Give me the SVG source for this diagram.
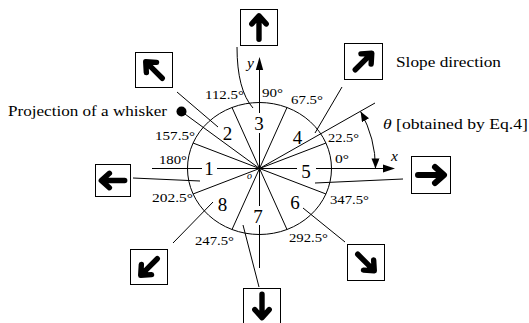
<svg xmlns="http://www.w3.org/2000/svg" xmlns:xlink="http://www.w3.org/1999/xlink" width="529" height="323" viewBox="0 0 529 323" font-family="'Liberation Serif', 'Times New Roman', serif">
<style>
text{font-family:'Liberation Serif', serif;fill:#000}
.deg{font-size:13.5px}
.num{font-size:19px;text-anchor:middle}
.lbl{font-size:15.5px}
.it{font-style:italic}
.ln{stroke:#000;stroke-width:1;fill:none}
.box{fill:#fff;stroke:#000;stroke-width:1}
.ag{stroke:#000;stroke-width:6;stroke-linecap:round;stroke-linejoin:round;fill:none}
</style>
<defs>
<g id="arr"><path class="ag" d="M-13,0 H12 M4,-8 L13,0 L4,8"/></g>
<marker id="ah" viewBox="0 0 10 8" refX="10" refY="4" markerWidth="10" markerHeight="8" markerUnits="userSpaceOnUse" orient="auto-start-reverse"><path d="M0,0 L10,4 L0,8 Z" fill="#000"/></marker>
</defs>
<rect width="529" height="323" fill="#fff"/>

<g id="dial">
<ellipse cx="259.5" cy="168.5" rx="72" ry="66" class="ln"/>
<path class="ln" d="M259.5,168.5 L326,143 M259.5,168.5 L287,107.5 M259.5,168.5 L232,107.5 M259.5,168.5 L193,143 M259.5,168.5 L193,194 M259.5,168.5 L232,229.5 M259.5,168.5 L287,229.5 M259.5,168.5 L326,194"/>
<path class="ln" d="M152,168.5 H202 M217,168.5 H259.5 H297 M316,168.5 H385"/>
<path d="M395,168.5 L383,164.5 L383,172.5 Z"/>
<path class="ln" d="M259.5,168.5 V133 M259.5,113 V69"/>
<path d="M259.5,57 L255.8,70 L263.2,70 Z"/>
<path class="ln" d="M259.5,168.5 V206 M259.5,225 V268"/>
<path class="ln" d="M259.5,168.5 L375,103"/>
<path class="ln" d="M375.5,168.5 A116,116 0 0 0 360.6,111.6" marker-start="url(#ah)" marker-end="url(#ah)"/>
<text class="num" x="209" y="174.5">1</text>
<text class="num" x="227.5" y="139.5">2</text>
<text class="num" x="259" y="129.5">3</text>
<text class="num" x="297.5" y="143.5">4</text>
<text class="num" x="306" y="177.5">5</text>
<text class="num" x="295" y="208.5">6</text>
<text class="num" x="258" y="222.5">7</text>
<text class="num" x="222.5" y="210.5">8</text>
<text x="249.5" y="179" style="font-size:10px;text-anchor:middle" class="it">o</text>
<text class="lbl it" x="247" y="68">y</text>
<text class="lbl it" x="391" y="161">x</text>
<text class="deg" x="262" y="97" textLength="21" lengthAdjust="spacingAndGlyphs">90°</text>
<text class="deg" x="205" y="99" textLength="39" lengthAdjust="spacingAndGlyphs">112.5°</text>
<text class="deg" x="291" y="104" textLength="32" lengthAdjust="spacingAndGlyphs">67.5°</text>
<text class="deg" x="328" y="142" textLength="31" lengthAdjust="spacingAndGlyphs">22.5°</text>
<text class="deg" x="335" y="163" textLength="14" lengthAdjust="spacingAndGlyphs">0°</text>
<text class="deg" x="155" y="140" textLength="40" lengthAdjust="spacingAndGlyphs">157.5°</text>
<text class="deg" x="159" y="164" textLength="28" lengthAdjust="spacingAndGlyphs">180°</text>
<text class="deg" x="152" y="202" textLength="41" lengthAdjust="spacingAndGlyphs">202.5°</text>
<text class="deg" x="195" y="245" textLength="39" lengthAdjust="spacingAndGlyphs">247.5°</text>
<text class="deg" x="289" y="242" textLength="39" lengthAdjust="spacingAndGlyphs">292.5°</text>
<text class="deg" x="330" y="204" textLength="39" lengthAdjust="spacingAndGlyphs">347.5°</text>
<text class="lbl" x="383" y="129" textLength="145" lengthAdjust="spacingAndGlyphs"><tspan class="it">θ</tspan> [obtained by Eq.4]</text>
</g>

<g id="connectors">
<path class="ln" d="M237,47 Q237,90 253,108"/>
<path class="ln" d="M177,92 L218,127"/>
<path class="ln" d="M315,133 L342,87"/>
<path class="ln" d="M133,178 L200,181"/>
<path class="ln" d="M315,183 L403,179"/>
<path class="ln" d="M303,208 L345,242"/>
<path class="ln" d="M243,225 L259,287"/>
<path class="ln" d="M213,202 L173,243"/>
<path class="ln" d="M181.5,111.5 L259.5,168.5"/>
</g>

<g id="whisker">
<circle cx="181.5" cy="111.5" r="5" fill="#000"/>
<text class="lbl" x="8" y="116" textLength="159" lengthAdjust="spacingAndGlyphs">Projection of a whisker</text>
</g>

<g id="box-up"><rect class="box" x="240.5" y="9.5" width="37" height="36"/><use xlink:href="#arr" transform="translate(259,27.5) rotate(-90) scale(0.9)"/></g>
<g id="box-upleft"><rect class="box" x="135.5" y="52.5" width="37" height="35"/><use xlink:href="#arr" transform="translate(154,70) rotate(-135) scale(0.9)"/></g>
<g id="box-slope"><rect class="box" x="344.5" y="43.5" width="38" height="36"/><use xlink:href="#arr" transform="translate(363.5,61.5) rotate(-45) scale(0.9)"/><text class="lbl" x="396" y="67" textLength="105" lengthAdjust="spacingAndGlyphs">Slope direction</text></g>
<g id="box-left"><rect class="box" x="95.5" y="164.5" width="35" height="32"/><use xlink:href="#arr" transform="translate(113,180.5) rotate(180) scale(0.9)"/></g>
<g id="box-right"><rect class="box" x="411.5" y="156.5" width="39" height="37"/><use xlink:href="#arr" transform="translate(431,175)"/></g>
<g id="box-downright"><rect class="box" x="347.5" y="244.5" width="37" height="36"/><use xlink:href="#arr" transform="translate(366,262.5) rotate(45) scale(0.9)"/></g>
<g id="box-downleft"><rect class="box" x="130.5" y="249.5" width="37" height="35"/><use xlink:href="#arr" transform="translate(149,267) rotate(135) scale(0.9)"/></g>
<g id="box-down"><rect class="box" x="243.5" y="288.5" width="37" height="36"/><use xlink:href="#arr" transform="translate(262,306) rotate(90) scale(0.9)"/></g>
</svg>
